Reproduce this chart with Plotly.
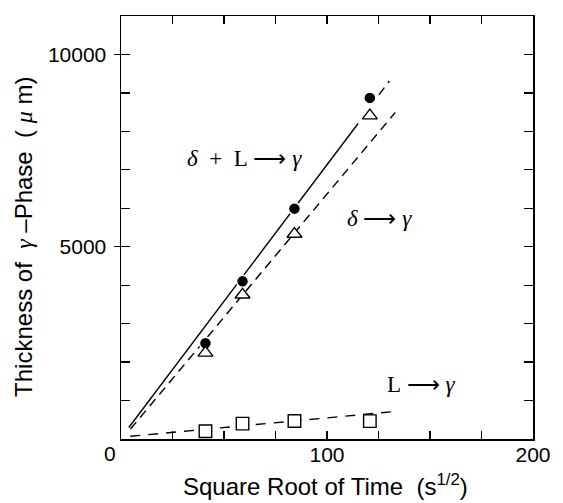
import plotly.graph_objects as go

# ---- data ----
sqrt_time = [41.0, 59.0, 84.2, 120.8]
thick_delta_L = [2490, 4100, 5990, 8870]   # δ + L → γ  (filled circles)
thick_delta = [2240, 3750, 5330, 8410]     # δ → γ      (open triangles)
thick_L = [200, 400, 470, 465]             # L → γ      (open squares)

# fitted straight lines (end points)
fit_dl_x = [3.8, 115.1]
fit_dl_y = [300, 8204]
fit_dl_ext_x = [125.2, 130.3]
fit_dl_ext_y = [8950, 9310]
fit_d_x = [4.6, 133.1]
fit_d_y = [259, 8490]
fit_l_x = [4.5, 131.0]
fit_l_y = [70, 705]

# axes ticks
x_tick_vals = [0, 25, 50, 75, 100, 125, 150, 175, 200]
x_tick_text = ["", "", "", "", "100", "", "", "", "200"]
x_origin_label = "0"
y_tick_vals = [0, 1000, 2000, 3000, 4000, 5000, 6000, 7000, 8000, 9000, 10000, 11000]
y_tick_text = ["", "", "", "", "", "5000", "", "", "", "", "10000", ""]
y_major_vals = [5000, 10000]

SANS = "Liberation Sans, Arial, Helvetica, sans-serif"
SERIF = "Liberation Serif, Times New Roman, serif"

fig = go.Figure()

# fit lines
fig.add_trace(go.Scatter(x=fit_dl_x, y=fit_dl_y, mode="lines",
                         line=dict(color="black", width=1.4), showlegend=False))
fig.add_trace(go.Scatter(x=fit_dl_ext_x, y=fit_dl_ext_y, mode="lines",
                         line=dict(color="black", width=1.4, dash="9px,6px"), showlegend=False))
fig.add_trace(go.Scatter(x=fit_d_x, y=fit_d_y, mode="lines",
                         line=dict(color="black", width=1.4, dash="9px,6px"), showlegend=False))
fig.add_trace(go.Scatter(x=fit_l_x, y=fit_l_y, mode="lines",
                         line=dict(color="black", width=1.4, dash="10px,8px"), showlegend=False))

# markers
fig.add_trace(go.Scatter(x=sqrt_time, y=thick_delta_L, mode="markers",
                         marker=dict(symbol="circle", size=12, color="black",
                                     line=dict(color="white", width=1.5)),
                         showlegend=False))
fig.add_trace(go.Scatter(x=sqrt_time, y=thick_delta, mode="markers",
                         marker=dict(symbol="triangle-up", size=13, color="white",
                                     line=dict(color="black", width=1.4)),
                         showlegend=False))
fig.add_trace(go.Scatter(x=sqrt_time, y=thick_L, mode="markers",
                         marker=dict(symbol="square", size=12.5, color="white",
                                     line=dict(color="black", width=1.4)),
                         showlegend=False))

# dummy trace to activate the overlay axis for the outside major stubs
fig.add_trace(go.Scatter(x=[None], y=[None], yaxis="y2", mode="markers", showlegend=False,
                         hoverinfo="skip"))

fig.update_layout(
    width=563, height=503,
    margin=dict(l=121, r=21, t=16, b=64),
    paper_bgcolor="white", plot_bgcolor="white",
    font=dict(family=SANS, color="black", size=21),
    xaxis=dict(range=[0, 200], tickmode="array", tickvals=x_tick_vals, ticktext=x_tick_text,
               ticks="inside", ticklen=8, tickwidth=1.3, tickcolor="black",
               showline=True, linecolor="black", linewidth=1.5, mirror="ticks",
               showgrid=False, zeroline=False, ticklabelstandoff=-4,
               tickfont=dict(family=SANS, size=21, color="black")),
    yaxis=dict(range=[0, 11000], tickmode="array", tickvals=y_tick_vals, ticktext=y_tick_text,
               ticks="inside", ticklen=9, tickwidth=1.3, tickcolor="black",
               showline=True, linecolor="black", linewidth=1.5, mirror="ticks",
               showgrid=False, zeroline=False, ticklabelstandoff=9,
               tickfont=dict(family=SANS, size=21, color="black")),
    yaxis2=dict(range=[0, 11000], overlaying="y", side="left", tickmode="array",
                tickvals=y_major_vals, ticks="outside", ticklen=6, tickwidth=1.3,
                tickcolor="black", showticklabels=False, showline=False,
                showgrid=False, zeroline=False),
)

NB = "\u00a0"
annotations = [
    dict(x=59.9, y=7303, xref="x", yref="y", showarrow=False, xanchor="center", yanchor="middle",
         text=f"<i>δ</i>{NB}{NB}+{NB}{NB}L{NB}⟶{NB}<i>γ</i>",
         font=dict(family=SERIF, size=23, color="black")),
    dict(x=125.4, y=5746, xref="x", yref="y", showarrow=False, xanchor="center", yanchor="middle",
         text=f"<i>δ</i>{NB}⟶{NB}<i>γ</i>", font=dict(family=SERIF, size=23, color="black")),
    dict(x=145.8, y=1412, xref="x", yref="y", showarrow=False, xanchor="center", yanchor="middle",
         text=f"L{NB}⟶{NB}<i>γ</i>", font=dict(family=SERIF, size=23, color="black")),
    dict(x=(110 - 121) / 421, y=(439.4 - 454) / 423.4, xref="paper", yref="paper",
         showarrow=False, xanchor="center", yanchor="middle",
         text=x_origin_label, font=dict(family=SANS, size=21, color="black")),
    dict(x=(22 - 121) / 421, y=(439.4 - 237) / 423.4, xref="paper", yref="paper",
         showarrow=False, textangle=-90, xanchor="center", yanchor="middle",
         text=(f"Thickness of{NB}{NB}<span style='font-family:Liberation Serif'><i>γ</i></span>{NB}–Phase"
               f"{NB}{NB}({NB}<span style='font-family:Liberation Serif'><i>μ</i></span>{NB}m)"),
         font=dict(family=SANS, size=24, color="black")),
    dict(x=(330 - 121) / 421, y=(439.4 - 502) / 423.4, xref="paper", yref="paper",
         showarrow=False, xanchor="center", yanchor="bottom",
         text=f"Square Root of Time{NB}{NB}(s<sup>1/2</sup>)",
         font=dict(family=SANS, size=24, color="black")),
]
fig.update_layout(annotations=annotations)

fig.write_html("out.html",
               config={"displayModeBar": False, "staticPlot": True},
               post_script="document.body.style.margin='0';document.body.style.padding='0';")
